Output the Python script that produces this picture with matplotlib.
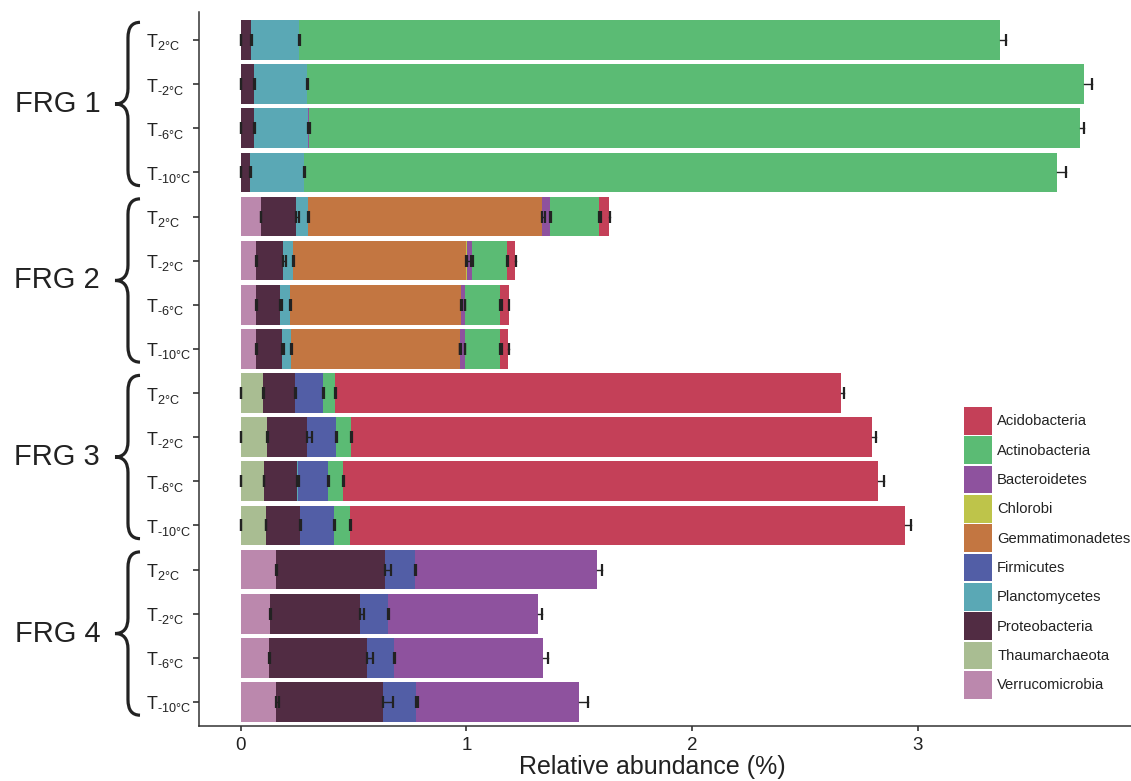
import numpy as np
import matplotlib
matplotlib.use("Agg")
import matplotlib.pyplot as plt
import matplotlib.transforms as mtransforms
from matplotlib.path import Path
from matplotlib.patches import PathPatch, Patch

plt.rcParams["font.family"] = ["Liberation Sans", "DejaVu Sans"]
plt.rcParams["mathtext.fontset"] = "custom"
plt.rcParams["mathtext.rm"] = "Liberation Sans"
plt.rcParams["mathtext.it"] = "Liberation Sans:italic"
plt.rcParams["mathtext.bf"] = "Liberation Sans:bold"
plt.rcParams["mathtext.default"] = "rm"

# Datos: abundancia relativa media (%) por filo, 16 muestras (4 grupos x 4 temperaturas)
groups = ["FRG 1", "FRG 2", "FRG 3", "FRG 4"]
temps = ["2°C", "\u20102°C", "\u20106°C", "\u201010°C"]
nan = np.nan

verrucomicrobia = [0, 0, 0, 0, .089, .067, .067, .067, 0, 0, 0, 0, .156, .129, .125, .156]
thaumarchaeota = [nan, nan, nan, nan, nan, nan, nan, nan, .098, .116, .102, .111, nan, nan, nan, nan]
proteobacteria = [.046, .059, .059, .041, .156, .120, .107, .116, .142, .178, .147, .152, .485, .401, .436, .476]
planctomycetes = [.212, .235, .239, .240, .053, .044, .044, .040, nan, nan, .005, nan, nan, nan, nan, nan]
firmicutes = [nan, nan, nan, nan, nan, nan, nan, nan, .125, .129, .133, .151, .133, .124, .120, .147]
gemmatimonadetes = [nan, nan, nan, nan, 1.037, .766, .757, .747, nan, nan, nan, nan, nan, nan, nan, nan]
chlorobi = [nan, nan, nan, nan, nan, .004, nan, .003, nan, nan, nan, nan, nan, nan, nan, nan]
bacteroidetes = [nan, nan, .005, nan, .036, .023, .017, .019, nan, nan, nan, nan, .806, .663, .659, .721]
actinobacteria = [3.106, 3.444, 3.417, 3.337, .218, .156, .156, .156, .053, .067, .067, .071, nan, nan, nan, nan]
acidobacteria = [nan, nan, nan, nan, .044, .035, .040, .036, 2.243, 2.308, 2.371, 2.460, nan, nan, nan, nan]

# desviaciones estandar
verrucomicrobia_sd = [.003, .003, .003, .003, .003, .003, .003, .004, .003, .003, .003, .003, .003, .004, .003, .015]
thaumarchaeota_sd = [0, 0, 0, 0, 0, 0, 0, 0, .003, .005, .003, .003, 0, 0, 0, 0]
proteobacteria_sd = [.004, .004, .005, .004, .012, .012, .008, .009, .003, .022, .003, .003, .026, .015, .026, .044]
planctomycetes_sd = [.003, .003, .005, .003, .003, .003, .003, .003, 0, 0, .003, 0, 0, 0, 0, 0]
firmicutes_sd = [0, 0, 0, 0, 0, 0, 0, 0, .003, .004, .003, .003, .005, .003, .003, .005]
gemmatimonadetes_sd = [0, 0, 0, 0, .015, .025, .004, .004, 0, 0, 0, 0, 0, 0, 0, 0]
chlorobi_sd = [0, 0, 0, 0, 0, .002, 0, .002, 0, 0, 0, 0, 0, 0, 0, 0]
bacteroidetes_sd = [0, 0, .003, 0, .004, .004, .003, .003, 0, 0, 0, 0, .020, .018, .022, .040]
actinobacteria_sd = [.026, .036, .018, .040, .010, .003, .012, .008, .003, .003, .003, .003, 0, 0, 0, 0]
acidobacteria_sd = [0, 0, 0, 0, .003, .003, .003, .003, .013, .018, .027, .027, 0, 0, 0, 0]

# orden de apilado (izquierda a derecha)
capas = [
    ("Verrucomicrobia", verrucomicrobia, verrucomicrobia_sd, "#BB88AD"),
    ("Thaumarchaeota", thaumarchaeota, thaumarchaeota_sd, "#A9BD92"),
    ("Proteobacteria", proteobacteria, proteobacteria_sd, "#512C43"),
    ("Planctomycetes", planctomycetes, planctomycetes_sd, "#5AA8B5"),
    ("Firmicutes", firmicutes, firmicutes_sd, "#525EA6"),
    ("Gemmatimonadetes", gemmatimonadetes, gemmatimonadetes_sd, "#C37641"),
    ("Chlorobi", chlorobi, chlorobi_sd, "#BEC44A"),
    ("Bacteroidetes", bacteroidetes, bacteroidetes_sd, "#8E529E"),
    ("Actinobacteria", actinobacteria, actinobacteria_sd, "#5BBB74"),
    ("Acidobacteria", acidobacteria, acidobacteria_sd, "#C44058"),
]

ink = "#222222"
fig = plt.figure(figsize=(11.31, 7.81), dpi=100)
ax = fig.add_axes([199 / 1131, 55 / 781, 932 / 1131, 714 / 781])

n = 4 * len(groups)
y = np.arange(n)
left = np.zeros(n)
barras = []
for nombre, vals, sds, color in capas:
    v = np.array(vals, float)
    m = ~np.isnan(v)
    ax.barh(y[m], v[m], left=left[m], height=0.9, color=color, linewidth=0, zorder=2)
    fin = left + np.nan_to_num(v)
    barras.append((m, fin, np.array(sds, float)))
    left = fin

# ultimo segmento de cada barra
ultimo = np.zeros(n, int)
for k, (m, fin, sds) in enumerate(barras):
    ultimo[m & (fin > 0)] = k

for k, (m, fin, sds) in enumerate(barras):
    for i in np.where(m)[0]:
        if ultimo[i] == k:
            # solo la mitad exterior se ve
            ax.plot([fin[i], fin[i] + sds[i]], [y[i], y[i]], color=ink, lw=1.0, zorder=3)
            ax.plot(fin[i] + sds[i], y[i], marker="|", ms=8.6, mew=1.6, color=ink, zorder=3)
        else:
            ax.errorbar(fin[i], y[i], xerr=[[0], [sds[i]]], fmt="none", ecolor=ink,
                        elinewidth=1.0, capsize=4.3, capthick=1.6, zorder=3)

ax.set_xlim(-0.185, 3.946)
ax.set_ylim(15.545, -0.634)
ax.set_xticks([0, 1, 2, 3])
ax.set_yticks(y)
ax.set_yticklabels(["T$_{%s}$" % t for g in groups for t in temps], ha="left")
ax.tick_params(axis="y", length=4.3, width=1.1, pad=33.8, labelsize=13, colors=ink)
ax.tick_params(axis="x", length=3.6, width=1.1, pad=4, labelsize=13.5, colors=ink)
for s in ["top", "right"]:
    ax.spines[s].set_visible(False)
for s in ["left", "bottom"]:
    ax.spines[s].set_linewidth(1.1)
    ax.spines[s].set_color("#333333")

ax.set_xlabel("Relative abundance (%)", fontsize=18, color=ink)
ax.xaxis.set_label_coords(0.486, -0.041)

# llaves y etiquetas de grupo
trans = mtransforms.blended_transform_factory(ax.transAxes, ax.transData)
x_tip, x_mid, x_end, r = -0.0901, -0.0762, -0.0633, 0.35
for g, nombre in enumerate(groups):
    y0, y1 = 4 * g - 0.40, 4 * g + 3.30
    ym = (y0 + y1) / 2
    verts = [(x_end, y0), (x_mid, y0), (x_mid, y0 + r), (x_mid, ym - r),
             (x_mid, ym), (x_tip, ym), (x_mid, ym), (x_mid, ym + r),
             (x_mid, y1 - r), (x_mid, y1), (x_end, y1)]
    codes = [Path.MOVETO, Path.CURVE3, Path.CURVE3, Path.LINETO,
             Path.CURVE3, Path.CURVE3, Path.CURVE3, Path.CURVE3,
             Path.LINETO, Path.CURVE3, Path.CURVE3]
    ax.add_patch(PathPatch(Path(verts, codes), facecolor="none", edgecolor=ink,
                           linewidth=2.3, transform=trans, clip_on=False))
    ax.text(-0.152, ym, nombre, transform=trans, fontsize=21, color=ink,
            ha="center", va="center")

handles = [Patch(facecolor=c, edgecolor="none", label=nm) for nm, _, _, c in reversed(capas)]
ax.legend(handles=handles, loc="upper left", bbox_to_anchor=(964 / 1131, 1 - 407 / 781),
          bbox_transform=fig.transFigure, frameon=False, fontsize=10.6, labelcolor=ink,
          handlelength=1.9, handleheight=2.52, labelspacing=0.11, handletextpad=0.35,
          borderpad=0, borderaxespad=0)

plt.savefig("out.png", dpi=100)
